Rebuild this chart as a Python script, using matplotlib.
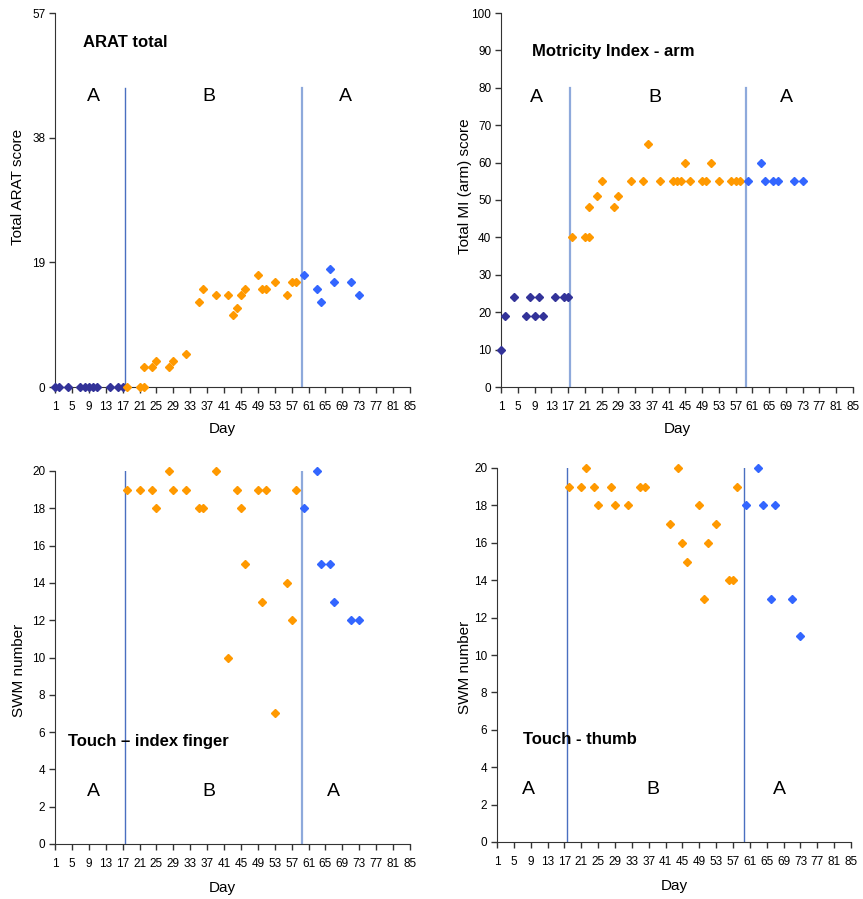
import matplotlib
matplotlib.use('Agg')
import matplotlib.pyplot as plt

plt.rcParams['font.family'] = ['Liberation Sans', 'DejaVu Sans']

# Phase days
days_a1 = [1, 2, 4, 7, 8, 9, 10, 11, 14, 16, 17]
days_b = [18, 21, 22, 22, 24, 25, 28, 29, 32, 35, 36, 39, 42, 43, 44, 45, 46, 49, 50, 51, 53, 56, 57, 58]
days_a2 = [60, 63, 64, 66, 67, 71, 73]
days_b_touch_idx = [18, 21, 24, 25, 28, 29, 32, 35, 36, 39, 42, 44, 45, 46, 49, 50, 51, 53, 56, 57, 58]
days_b_touch_th = [18, 21, 22, 24, 25, 28, 29, 32, 35, 36, 42, 44, 45, 46, 49, 50, 51, 53, 56, 57, 58]

# ARAT total
arat_a1 = [0, 0, 0, 0, 0, 0, 0, 0, 0, 0, 0]
arat_b = [0, 0, 0, 3, 3, 4, 3, 4, 5, 13, 15, 14, 14, 11, 12, 14, 15, 17, 15, 15, 16, 14, 16, 16]
arat_a2 = [17, 15, 13, 18, 16, 16, 14]

# Motricity Index - arm
mi_a1 = [10, 19, 24, 19, 24, 19, 24, 19, 24, 24, 24]
mi_b = [40, 40, 40, 48, 51, 55, 48, 51, 55, 55, 65, 55, 55, 55, 55, 60, 55, 55, 55, 60, 55, 55, 55, 55]
mi_a2 = [55, 60, 55, 55, 55, 55, 55]

# Touch - index finger (SWM)
idx_b = [19, 19, 19, 18, 20, 19, 19, 18, 18, 20, 10, 19, 18, 15, 19, 13, 19, 7, 14, 12, 19]
idx_a2 = [18, 20, 15, 15, 13, 12, 12]

# Touch - thumb (SWM)
th_b = [19, 19, 20, 19, 18, 19, 18, 18, 19, 19, 17, 20, 16, 15, 18, 13, 16, 17, 14, 14, 19]
th_a2 = [18, 20, 18, 13, 18, 13, 11]

phase_lines = [17.5, 59.5]
x_ticks = list(range(1, 86, 4))

navy = '#333399'
orange = '#FF9900'
blue = '#3366FF'

fig = plt.figure(figsize=(8.63, 8.99), dpi=100)
W, H = 863, 899


def make_ax(left, top, right, bottom):
    return fig.add_axes([left / W, 1 - bottom / H, (right - left) / W, (bottom - top) / H])


def style(ax, ymax, yticks, ylabel, ylab_xy, xlab_xy):
    ax.set_xlim(1, 85)
    ax.set_ylim(0, ymax)
    ax.set_xticks(x_ticks)
    ax.set_xticklabels([str(t) for t in x_ticks], fontsize=8.5)
    ax.set_yticks(yticks)
    ax.set_yticklabels([str(t) for t in yticks], fontsize=8.5)
    ax.spines['top'].set_visible(False)
    ax.spines['right'].set_visible(False)
    ax.spines['left'].set_color('#333333')
    ax.spines['bottom'].set_color('#333333')
    ax.tick_params(direction='out', length=4, width=1, color='#333333')
    ax.tick_params(axis='x', pad=6)
    ax.tick_params(axis='y', pad=3)
    ax.set_xlabel('Day', fontsize=11)
    ax.set_ylabel(ylabel, fontsize=11)
    ax.xaxis.set_label_coords(*xlab_xy)
    ax.yaxis.set_label_coords(*ylab_xy)
    ax.yaxis.label.set_va('center')
    ax.xaxis.label.set_va('center')


def dots(ax, x, y, c):
    ax.plot(x, y, 'D', color=c, markersize=4.4, linestyle='none', clip_on=False, zorder=3)


def phases(ax, top, colors, widths):
    for d, c, w in zip(phase_lines, colors, widths):
        ax.plot([d, d], [0, top], color=c, lw=w, zorder=2)


dark_line = '#4A6FC0'
light_line = '#8EA9DB'

# ARAT total
ax1 = make_ax(55, 13, 410, 387)
style(ax1, 57, [0, 19, 38, 57], 'Total ARAT score', (-0.104, 0.535), (0.47, -0.112))
phases(ax1, 45.6, [dark_line, light_line], [1.0, 1.6])
dots(ax1, days_a1, arat_a1, navy)
dots(ax1, days_b, arat_b, orange)
dots(ax1, days_a2, arat_a2, blue)
ax1.text(7.6, 52.5, 'ARAT total', fontsize=12, fontweight='bold', va='center')
for x, s in [(10, 'A'), (37.5, 'B'), (69.7, 'A')]:
    ax1.text(x, 44.2, s, fontsize=14, ha='center', va='center')

# Motricity Index - arm
ax2 = make_ax(501, 13, 853, 387)
style(ax2, 100, list(range(0, 101, 10)), 'Total MI (arm) score', (-0.102, 0.537), (0.5, -0.112))
phases(ax2, 80, [light_line, light_line], [1.6, 1.6])
dots(ax2, days_a1, mi_a1, navy)
dots(ax2, days_b, mi_b, orange)
dots(ax2, days_a2, mi_a2, blue)
ax2.text(8.5, 89.6, 'Motricity Index - arm', fontsize=12, fontweight='bold', va='center')
for x, s in [(9.4, 'A'), (37.8, 'B'), (69.2, 'A')]:
    ax2.text(x, 77.5, s, fontsize=14, ha='center', va='center')

# Touch - index finger
ax3 = make_ax(55, 471, 410, 844)
style(ax3, 20, list(range(0, 21, 2)), 'SWM number', (-0.101, 0.466), (0.47, -0.118))
phases(ax3, 20, [dark_line, light_line], [1.0, 1.6])
dots(ax3, days_b_touch_idx, idx_b, orange)
dots(ax3, days_a2, idx_a2, blue)
ax3.text(4.1, 5.5, 'Touch \u2013 index finger', fontsize=12, fontweight='bold', va='center')
for x, s in [(10, 'A'), (37.3, 'B'), (67, 'A')]:
    ax3.text(x, 2.8, s, fontsize=14, ha='center', va='center')

# Touch - thumb
ax4 = make_ax(497, 468, 851, 842)
style(ax4, 20, list(range(0, 21, 2)), 'SWM number', (-0.090, 0.468), (0.5, -0.118))
phases(ax4, 20, [dark_line, dark_line], [1.0, 1.0])
dots(ax4, days_b_touch_th, th_b, orange)
dots(ax4, days_a2, th_a2, blue)
ax4.text(7.2, 5.5, 'Touch - thumb', fontsize=12, fontweight='bold', va='center')
for x, s in [(8.4, 'A'), (38, 'B'), (68, 'A')]:
    ax4.text(x, 2.8, s, fontsize=14, ha='center', va='center')

fig.savefig('out.png', dpi=100)
